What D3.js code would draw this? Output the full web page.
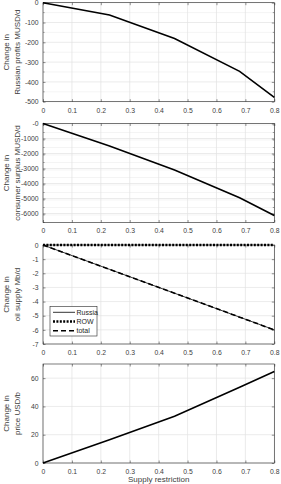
<!DOCTYPE html>
<html>
<head>
<meta charset="utf-8">
<script src="https://cdn.jsdelivr.net/npm/d3@7"></script>
<style>
  body { margin: 0; background: #fff; }
  text { font-family: "Liberation Sans", Arial, sans-serif; }
</style>
</head>
<body>
<div class="data_figure"></div>
<script>
// values
const restriction = [0, 0.23, 0.455, 0.68, 0.8];
const profits = [0, -62, -181, -347, -478];
const consumerSurplus = [0, -1500, -3100, -4950, -6130];
const supplyRussia = [0, -1.72, -3.41, -5.1, -6.0];
const supplyROW = [0, 0, 0, 0, 0];
const supplyTotal = [0, -1.72, -3.41, -5.1, -6.0];
const priceChange = [0, 16.5, 33, 53.5, 64.7];

const xTicks = [0, 0.1, 0.2, 0.3, 0.4, 0.5, 0.6, 0.7, 0.8];
const profitTicks = [0, -100, -200, -300, -400, -500];
const surplusTicks = [0, -1000, -2000, -3000, -4000, -5000, -6000];
const surplusTickLabels = ["-0", "-1000", "-2000", "-3000", "-4000", "-5000", "-6000"];
const supplyTicks = [0, -1, -2, -3, -4, -5, -6, -7];
const priceTicks = [0, 20, 40, 60];
const legendLabels = ["Russia", "ROW", "total"];

const width = 281, height = 484;
const left = 43, right = 274.3, panelH = 99;
const axisColor = "#262626", gridColor = "#e3e3e3", minorGridColor = "#ededed";

const svg = d3.select(".data_figure").append("svg")
    .attr("width", width).attr("height", height);

const xScale = d3.scaleLinear().domain([0, 0.8]).range([left, right]);

function panel(top, domain, ticks, tickLabels, minorStep, label1, label2) {
    const y = d3.scaleLinear().domain(domain).range([top + panelH, top]);
    const g = svg.append("g");

    // minor grid
    if (minorStep) {
        const minor = d3.range(domain[0], domain[1] + 1e-9, minorStep)
            .filter(v => !ticks.some(t => Math.abs(t - v) < 1e-9));
        g.selectAll(".mgrid").data(minor).enter().append("line")
            .attr("x1", left).attr("x2", right)
            .attr("y1", d => y(d)).attr("y2", d => y(d))
            .attr("stroke", minorGridColor).attr("stroke-width", 0.6);
        // minor ticks on both sides
        g.selectAll(".mtick").data(minor).enter().append("path")
            .attr("d", d => "M" + left + "," + y(d) + "h1.5M" + right + "," + y(d) + "h-1.5")
            .attr("stroke", axisColor).attr("stroke-width", 0.5);
    }
    // major grid
    g.selectAll(".ygrid").data(ticks).enter().append("line")
        .attr("x1", left).attr("x2", right)
        .attr("y1", d => y(d)).attr("y2", d => y(d))
        .attr("stroke", gridColor).attr("stroke-width", 0.7);
    g.selectAll(".xgrid").data(xTicks).enter().append("line")
        .attr("x1", d => xScale(d)).attr("x2", d => xScale(d))
        .attr("y1", top).attr("y2", top + panelH)
        .attr("stroke", gridColor).attr("stroke-width", 0.7);

    // axes with inward ticks
    const yAxis = g.append("g").attr("transform", "translate(" + left + ",0)")
        .call(d3.axisLeft(y).tickValues(ticks).tickSizeInner(-2.5).tickSizeOuter(0)
            .tickPadding(4.5).tickFormat((d, i) => tickLabels[i]));
    const yAxisR = g.append("g").attr("transform", "translate(" + right + ",0)")
        .call(d3.axisRight(y).tickValues(ticks).tickSizeInner(-2.5).tickSizeOuter(0).tickFormat(""));
    const xAxis = g.append("g").attr("transform", "translate(0," + (top + panelH) + ")")
        .call(d3.axisBottom(xScale).tickValues(xTicks).tickSizeInner(-2.5).tickSizeOuter(0)
            .tickPadding(6).tickFormat(d3.format("")));
    const xAxisT = g.append("g").attr("transform", "translate(0," + top + ")")
        .call(d3.axisTop(xScale).tickValues(xTicks).tickSizeInner(-2.5).tickSizeOuter(0).tickFormat(""));
    [yAxis, yAxisR, xAxis, xAxisT].forEach(a => {
        a.select(".domain").remove();
        a.selectAll("line").attr("stroke", axisColor).attr("stroke-width", 0.5);
        a.selectAll("text").attr("fill", "#404040").style("font-size", "6.8px")
            .style("font-family", "'Liberation Sans', Arial, sans-serif");
    });

    g.append("text")
        .attr("transform", "translate(8.5," + (top + panelH / 2) + ") rotate(-90)")
        .attr("text-anchor", "middle").style("font-size", "8px").attr("fill", "#404040")
        .text(label1);
    g.append("text")
        .attr("transform", "translate(19.5," + (top + panelH / 2) + ") rotate(-90)")
        .attr("text-anchor", "middle").style("font-size", "8px").attr("fill", "#404040")
        .text(label2);

    return {g: g, y: y, top: top};
}

function box(p) {
    p.g.append("rect")
        .attr("x", left).attr("y", p.top)
        .attr("width", right - left).attr("height", panelH)
        .attr("fill", "none").attr("stroke", axisColor).attr("stroke-width", 0.6);
}

function drawLine(p, values, w, dash) {
    const line = d3.line().x((d, i) => xScale(restriction[i])).y(d => p.y(d));
    p.g.append("path")
        .datum(values)
        .attr("d", line)
        .attr("fill", "none")
        .attr("stroke", "#000")
        .attr("stroke-width", w)
        .attr("stroke-dasharray", dash || null);
}

const p1 = panel(2.7, [-500, 0], profitTicks, profitTicks.map(String), 50,
    "Change in", "Russian profits MUSD/d");
box(p1);
drawLine(p1, profits, 1.6);

const p2 = panel(123.5, [-6600, 0], surplusTicks, surplusTickLabels, 500,
    "Change in", "consumer surplus MUSD/d");
box(p2);
drawLine(p2, consumerSurplus, 1.6);

const p3 = panel(245, [-7, 0], supplyTicks, supplyTicks.map(String), null,
    "Change in", "oil supply Mb/d");
box(p3);
drawLine(p3, supplyRussia, 0.8);
drawLine(p3, supplyROW, 2.3, "2,1.4");
drawLine(p3, supplyTotal, 1.6, "5,3");

// legend
const legendStyles = [
    {w: 0.8, dash: null},
    {w: 2.3, dash: "2,1.4"},
    {w: 1.6, dash: "5,3"}
];
const legend = p3.g.append("g").attr("id", "legend");
legend.append("rect")
    .attr("x", 50).attr("y", 306.5).attr("width", 47).attr("height", 29.5)
    .attr("fill", "#fff").attr("stroke", axisColor).attr("stroke-width", 0.6);
legend.selectAll(".legendLine").data(legendLabels).enter().append("line")
    .attr("x1", 53).attr("x2", 75)
    .attr("y1", (d, i) => 312.3 + i * 9.2).attr("y2", (d, i) => 312.3 + i * 9.2)
    .attr("stroke", "#000")
    .attr("stroke-width", (d, i) => legendStyles[i].w)
    .attr("stroke-dasharray", (d, i) => legendStyles[i].dash);
legend.selectAll(".legendLabel").data(legendLabels).enter().append("text")
    .attr("x", 76.5).attr("y", (d, i) => 312.3 + i * 9.2).attr("dy", "0.35em")
    .style("font-size", "7px").attr("fill", "#262626")
    .text(d => d);

const p4 = panel(364, [0, 70], priceTicks, priceTicks.map(String), null,
    "Change in", "price USD/b");
box(p4);
drawLine(p4, priceChange, 1.6);

svg.append("text")
    .attr("x", (left + right) / 2).attr("y", 481.5)
    .attr("text-anchor", "middle").style("font-size", "8px").attr("fill", "#404040")
    .text("Supply restriction");
</script>
</body>
</html>
